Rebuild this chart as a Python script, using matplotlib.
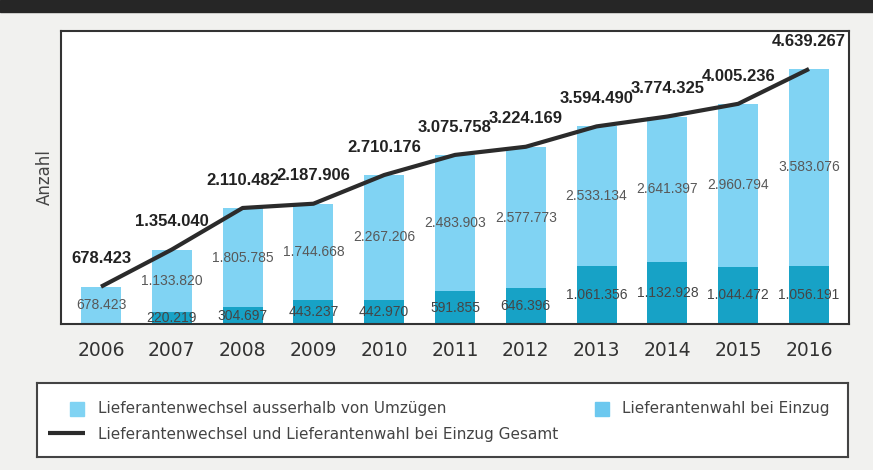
import matplotlib
matplotlib.use("Agg")
import matplotlib.pyplot as plt
from matplotlib.patches import Rectangle

years = ["2006", "2007", "2008", "2009", "2010", "2011",
         "2012", "2013", "2014", "2015", "2016"]
# Lieferantenwechsel ausserhalb von Umzuegen (light)
wechsel = [678423, 1133820, 1805785, 1744668, 2267206, 2483903,
           2577773, 2533134, 2641397, 2960794, 3583076]
# Lieferantenwahl bei Einzug (dark)
einzug = [0, 220219, 304697, 443237, 442970, 591855,
          646396, 1061356, 1132928, 1044472, 1056191]
gesamt = [678423, 1354040, 2110482, 2187906, 2710176, 3075758,
          3224169, 3594490, 3774325, 4005236, 4639267]

LIGHT = "#80d3f3"
DARK = "#17a2c6"
LINE = "#2b2b2b"
TEXT = "#444444"
PAPER = "#f1f1ef"
NUMFONT = "Liberation Sans"


def fmt(v):
    return f"{v:,}".replace(",", ".")


def main():
    fig = plt.figure(figsize=(8.73, 4.70), dpi=100, facecolor=PAPER)

    # dark band across the top of the page
    fig.add_artist(Rectangle((0, 1 - 12 / 470), 1, 12 / 470,
                             transform=fig.transFigure, color="#262626", zorder=0))

    ax = fig.add_axes([61 / 873, 146 / 470, 788 / 873, 293 / 470])
    ax.set_facecolor("white")
    x = list(range(len(years)))

    ax.bar(x, einzug, width=0.565, color=DARK, zorder=2)
    ax.bar(x, wechsel, width=0.565, bottom=einzug, color=LIGHT, zorder=2)
    ax.plot(x, gesamt, color=LINE, lw=3, solid_capstyle="butt", zorder=3)

    for i in x:
        ax.annotate(fmt(gesamt[i]), (i, gesamt[i]), xytext=(0, 20),
                    textcoords="offset points", ha="center", va="center",
                    fontsize=12, fontweight="bold", color="#222222",
                    family=NUMFONT, zorder=4)
        ax.text(i, einzug[i] + wechsel[i] / 2, fmt(wechsel[i]), ha="center",
                va="center", fontsize=10, color="#585858", family=NUMFONT,
                zorder=4)
        if einzug[i] > 0:
            ax.text(i, einzug[i] / 2, fmt(einzug[i]), ha="center", va="center",
                    fontsize=10, color="#454545", family=NUMFONT, zorder=4)

    ax.set_xlim(-0.565, 10.565)
    ax.set_ylim(0, 5330000)
    ax.set_yticks([])
    ax.set_xticks(x)
    ax.set_xticklabels(years, fontsize=13.5, color="#333333")
    ax.tick_params(axis="x", length=0, pad=12)
    for s in ax.spines.values():
        s.set_color("#333333")
        s.set_linewidth(1.5)
    ax.set_ylabel("Anzahl", fontsize=12, color=TEXT, labelpad=5)

    # legend box
    lg = fig.add_axes([37 / 873, 13 / 470, 811 / 873, 74 / 470])
    lg.set_xlim(0, 811)
    lg.set_ylim(74, 0)
    lg.set_xticks([])
    lg.set_yticks([])
    lg.set_facecolor("white")
    for s in lg.spines.values():
        s.set_color("#444444")
        s.set_linewidth(1.5)
    lg.add_patch(Rectangle((33, 19), 14, 14, color=LIGHT))
    lg.text(61, 26, "Lieferantenwechsel ausserhalb von Umzügen", va="center",
            fontsize=11, color=TEXT)
    lg.add_patch(Rectangle((558, 19), 14, 14, color="#6cc8ef"))
    lg.text(585, 26, "Lieferantenwahl bei Einzug", va="center",
            fontsize=11, color=TEXT)
    lg.plot([11, 48], [50, 50], color=LINE, lw=3, solid_capstyle="butt")
    lg.text(61, 51, "Lieferantenwechsel und Lieferantenwahl bei Einzug Gesamt",
            va="center", fontsize=11, color=TEXT)

    fig.savefig("out.png", dpi=100, facecolor=PAPER)


if __name__ == "__main__":
    main()
